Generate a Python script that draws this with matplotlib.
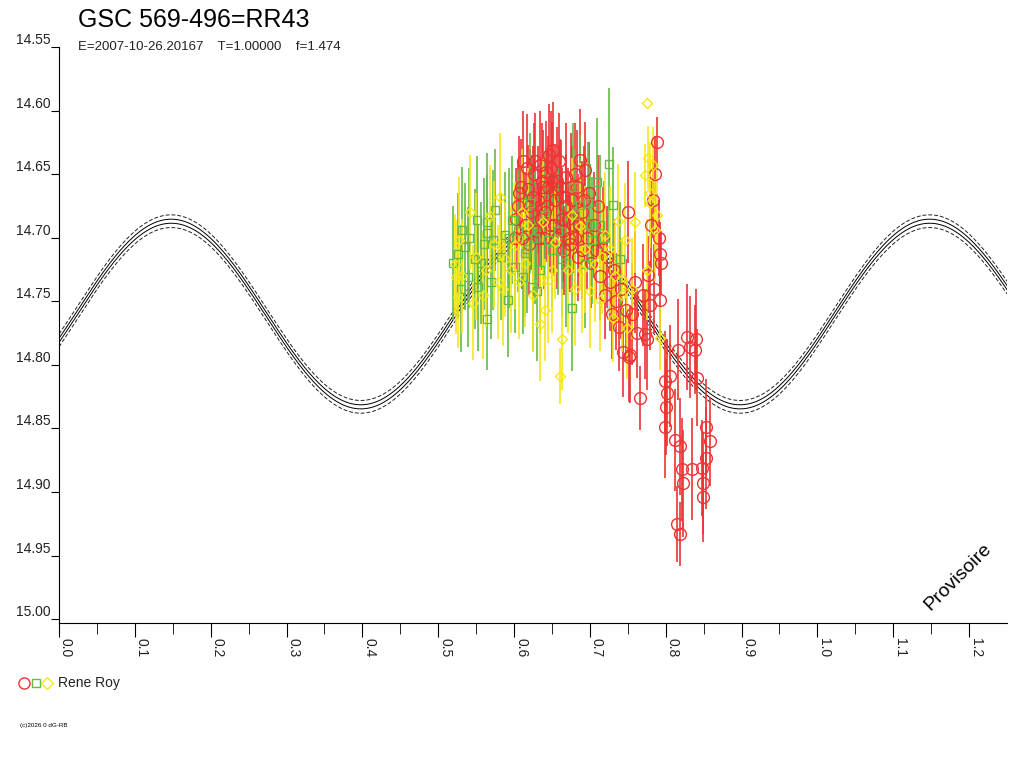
import numpy as np
import matplotlib
matplotlib.use('Agg')
import matplotlib.pyplot as plt

plt.rcParams['font.family'] = ['Liberation Sans', 'DejaVu Sans']

title = 'GSC 569-496=RR43'
subtitle = 'E=2007-10-26.20167    T=1.00000    f=1.474'
observer = 'Rene Roy'

# red circles (phase, mag, error)
red_phase = [0.601, 0.605, 0.609, 0.612, 0.615, 0.618, 0.620, 0.623, 0.626, 0.629,
             0.631, 0.634, 0.636, 0.638, 0.640, 0.642, 0.644, 0.646, 0.648, 0.650,
             0.652, 0.654, 0.657, 0.660, 0.663, 0.666, 0.669, 0.672, 0.675, 0.678,
             0.681, 0.684, 0.687, 0.690, 0.693, 0.696, 0.699, 0.702, 0.705, 0.708,
             0.711, 0.714, 0.717, 0.720, 0.723, 0.726, 0.729, 0.732, 0.735, 0.738,
             0.741, 0.744, 0.747, 0.750, 0.753, 0.756, 0.759, 0.762, 0.766, 0.770,
             0.777, 0.779, 0.773, 0.781, 0.783, 0.786, 0.789, 0.791, 0.793, 0.794,
             0.785, 0.793, 0.775, 0.752, 0.799, 0.802, 0.801, 0.799, 0.812, 0.819,
             0.822, 0.823, 0.815, 0.819, 0.834, 0.848, 0.849, 0.849, 0.853, 0.853,
             0.859, 0.840, 0.839, 0.828, 0.832, 0.841, 0.816, 0.806,
             0.603, 0.607, 0.611, 0.617, 0.621, 0.625, 0.628, 0.633, 0.637, 0.641,
             0.645, 0.649, 0.653, 0.656, 0.659, 0.662, 0.665, 0.668, 0.671, 0.674,
             0.677, 0.680, 0.683, 0.686, 0.689, 0.692]
red_mag = [14.700, 14.675, 14.660, 14.640, 14.690, 14.662, 14.705, 14.680, 14.650, 14.695,
           14.670, 14.643, 14.685, 14.660, 14.700, 14.648, 14.675, 14.635, 14.690, 14.655,
           14.631, 14.670, 14.700, 14.660, 14.685, 14.710, 14.675, 14.700, 14.660, 14.690,
           14.650, 14.715, 14.639, 14.680, 14.647, 14.700, 14.665, 14.720, 14.690, 14.710,
           14.675, 14.730, 14.700, 14.745, 14.715, 14.735, 14.760, 14.725, 14.750, 14.770,
           14.740, 14.790, 14.757, 14.680, 14.792, 14.760, 14.735, 14.775, 14.826, 14.745,
           14.729, 14.753, 14.776, 14.690, 14.670, 14.650, 14.625, 14.700, 14.713, 14.720,
           14.740, 14.749, 14.780, 14.794, 14.813, 14.822, 14.833, 14.849, 14.859, 14.864,
           14.882, 14.893, 14.925, 14.933, 14.882, 14.881, 14.893, 14.904, 14.873, 14.849,
           14.860, 14.780, 14.788, 14.778, 14.786, 14.810, 14.788, 14.809,
           14.685, 14.665, 14.700, 14.645, 14.675, 14.668, 14.640, 14.700, 14.655, 14.680,
           14.660, 14.645, 14.690, 14.655, 14.640, 14.668, 14.695, 14.652, 14.685, 14.705,
           14.670, 14.700, 14.660, 14.690, 14.710, 14.670]
red_err = [0.040, 0.035, 0.038, 0.040, 0.042, 0.035, 0.040, 0.045, 0.040, 0.038,
           0.042, 0.043, 0.040, 0.045, 0.040, 0.040, 0.044, 0.040, 0.038, 0.046,
           0.038, 0.043, 0.040, 0.038, 0.040, 0.035, 0.040, 0.040, 0.042, 0.038,
           0.040, 0.035, 0.040, 0.040, 0.038, 0.040, 0.040, 0.035, 0.042, 0.038,
           0.040, 0.035, 0.040, 0.035, 0.040, 0.038, 0.035, 0.040, 0.038, 0.035,
           0.040, 0.035, 0.040, 0.040, 0.038, 0.040, 0.040, 0.035, 0.025, 0.040,
           0.030, 0.035, 0.035, 0.035, 0.030, 0.030, 0.020, 0.030, 0.025, 0.025,
           0.035, 0.030, 0.040, 0.035, 0.040, 0.042, 0.038, 0.040, 0.040, 0.038,
           0.040, 0.042, 0.030, 0.025, 0.040, 0.038, 0.040, 0.035, 0.040, 0.038,
           0.035, 0.040, 0.035, 0.042, 0.040, 0.038, 0.040, 0.040,
           0.040, 0.045, 0.040, 0.042, 0.045, 0.040, 0.038, 0.040, 0.045, 0.042,
           0.040, 0.045, 0.040, 0.042, 0.038, 0.045, 0.040, 0.042, 0.040, 0.038,
           0.042, 0.040, 0.045, 0.040, 0.038, 0.042]

# green squares
green_phase = [0.551, 0.564, 0.565, 0.535, 0.526, 0.539, 0.552, 0.564, 0.572, 0.597,
               0.601, 0.612, 0.625, 0.630, 0.658, 0.663, 0.676, 0.621, 0.617, 0.725,
               0.709, 0.697, 0.687, 0.678, 0.731, 0.641, 0.645, 0.703, 0.713, 0.588,
               0.575, 0.740, 0.694, 0.680, 0.634, 0.592, 0.531, 0.548,
               0.520, 0.530, 0.541, 0.556, 0.561, 0.570, 0.583, 0.594, 0.605, 0.614,
               0.628, 0.650, 0.668, 0.700, 0.718]
green_mag = [14.686, 14.688, 14.696, 14.707, 14.713, 14.731, 14.739, 14.764, 14.702, 14.686,
             14.723, 14.731, 14.739, 14.742, 14.695, 14.717, 14.755, 14.673, 14.709, 14.642,
             14.656, 14.673, 14.674, 14.660, 14.674, 14.682, 14.702, 14.702, 14.690, 14.698,
             14.678, 14.717, 14.721, 14.682, 14.725, 14.749, 14.694, 14.717,
             14.720, 14.740, 14.700, 14.720, 14.705, 14.735, 14.715, 14.700, 14.695, 14.712,
             14.700, 14.710, 14.720, 14.690, 14.700]
green_err = [0.050, 0.055, 0.045, 0.050, 0.048, 0.055, 0.050, 0.040, 0.055, 0.050,
             0.052, 0.045, 0.050, 0.055, 0.050, 0.045, 0.050, 0.055, 0.050, 0.060,
             0.050, 0.048, 0.055, 0.050, 0.045, 0.050, 0.052, 0.050, 0.055, 0.050,
             0.048, 0.045, 0.050, 0.052, 0.050, 0.045, 0.050, 0.055,
             0.045, 0.050, 0.055, 0.048, 0.052, 0.045, 0.050, 0.055, 0.048, 0.050,
             0.052, 0.045, 0.050, 0.048, 0.045]

# yellow diamonds
yellow_phase = [0.542, 0.581, 0.568, 0.522, 0.524, 0.528, 0.526, 0.546, 0.559, 0.579,
                0.610, 0.618, 0.641, 0.634, 0.663, 0.661, 0.638, 0.654, 0.645, 0.676,
                0.671, 0.777, 0.783, 0.773, 0.779, 0.779, 0.687, 0.737, 0.760, 0.727,
                0.775, 0.700, 0.713, 0.731, 0.749, 0.793, 0.775, 0.786, 0.789, 0.588,
                0.601, 0.694, 0.707, 0.720, 0.746,
                0.532, 0.550, 0.563, 0.574, 0.585, 0.596, 0.606, 0.615, 0.625, 0.650,
                0.680, 0.690, 0.716, 0.733, 0.742, 0.755]
yellow_mag = [14.680, 14.668, 14.683, 14.721, 14.731, 14.702, 14.747, 14.751, 14.745, 14.735,
              14.680, 14.690, 14.757, 14.768, 14.780, 14.809, 14.688, 14.703, 14.733, 14.682,
              14.725, 14.637, 14.643, 14.651, 14.665, 14.673, 14.691, 14.687, 14.688, 14.709,
              14.725, 14.742, 14.749, 14.763, 14.771, 14.779, 14.594, 14.694, 14.682, 14.717,
              14.706, 14.709, 14.721, 14.698, 14.702,
              14.730, 14.715, 14.725, 14.705, 14.740, 14.725, 14.735, 14.720, 14.745, 14.725,
              14.740, 14.725, 14.715, 14.730, 14.745, 14.740]
yellow_err = [0.045, 0.050, 0.040, 0.040, 0.045, 0.050, 0.040, 0.045, 0.050, 0.045,
              0.050, 0.045, 0.040, 0.045, 0.040, 0.022, 0.050, 0.045, 0.050, 0.045,
              0.050, 0.025, 0.030, 0.025, 0.040, 0.035, 0.050, 0.045, 0.040, 0.050,
              0.040, 0.045, 0.040, 0.035, 0.040, 0.025, 0.000, 0.040, 0.040, 0.045,
              0.050, 0.050, 0.045, 0.050, 0.045,
              0.045, 0.050, 0.045, 0.050, 0.045, 0.050, 0.045, 0.050, 0.045, 0.050,
              0.045, 0.050, 0.045, 0.040, 0.045, 0.040]

# a few faint grey measurements
grey_phase = [0.713, 0.724, 0.730]
grey_mag = [14.745, 14.750, 14.735]
grey_err = [0.020, 0.015, 0.020]

# fitted curve: mean, semi-amplitude, phase of maximum light, period in phase
fit_mean = 14.760
fit_amp = 0.073
fit_max = 0.148
fit_period = 0.5
band_inner = 0.0016
band_outer = 0.0050

fig = plt.figure(figsize=(10.24, 7.68), dpi=100)
ax = fig.add_axes([59 / 1024, 1 - 623 / 768, 948 / 1024, 576 / 768])

ph = np.linspace(0, 1.25, 600)
curve = fit_mean - fit_amp * np.cos(2 * np.pi * (ph - fit_max) / fit_period)
ax.plot(ph, curve - band_inner, color='black', lw=0.7)
ax.plot(ph, curve + band_inner, color='black', lw=0.7)
ax.plot(ph, curve - band_outer, color='#222222', lw=0.7, ls=(0, (4, 2)))
ax.plot(ph, curve + band_outer, color='#222222', lw=0.7, ls=(0, (4, 2)))

red = '#ee3333'
green = '#66bb44'
yellow = '#f5e616'

ax.errorbar(grey_phase, grey_mag, yerr=grey_err, fmt='none', ecolor='#d8d8d8',
            elinewidth=1.2, capsize=0)
ax.errorbar(red_phase, red_mag, yerr=red_err, fmt='o', ms=8.5, mfc='none',
            mec=red, mew=1, ecolor=red, elinewidth=1.2, capsize=0)
ax.errorbar(green_phase, green_mag, yerr=green_err, fmt='s', ms=6, mfc='none',
            mec=green, mew=1, ecolor=green, elinewidth=1.2, capsize=0)
ax.errorbar(yellow_phase, yellow_mag, yerr=yellow_err, fmt='D', ms=5.5, mfc='none',
            mec=yellow, mew=1, ecolor=yellow, elinewidth=1.2, capsize=0)

ax.set_xlim(0, 1.25)
ax.set_ylim(15.003, 14.55)
ax.spines['top'].set_visible(False)
ax.spines['right'].set_visible(False)

yt = np.arange(14.55, 15.0001, 0.05)
ax.set_yticks(yt)
ax.set_yticklabels([f'{v:.2f}' for v in yt], fontsize=10, color='#222222')
for lab in ax.get_yticklabels():
    lab.set_va('bottom')
ax.tick_params(axis='y', direction='out', length=6, pad=0)

xt = np.arange(0, 1.2001, 0.1)
ax.set_xticks(xt)
ax.set_xticks(np.arange(0.05, 1.25, 0.1), minor=True)
ax.set_xticklabels([f'{v:.1f}' for v in xt], rotation=270, ha='left', fontsize=10,
                   color='#222222')
ax.tick_params(axis='x', which='major', direction='out', length=10, pad=1)
ax.tick_params(axis='x', which='minor', direction='out', length=8)

fig.text(78 / 1024, 1 - 20 / 768, title, fontsize=18, va='center', ha='left')
fig.text(78 / 1024, 1 - 47 / 768, subtitle, fontsize=9.5, va='center', ha='left',
         color='#222222')
fig.text(958 / 1024, 1 - 577 / 768, 'Provisoire', fontsize=14, rotation=45,
         ha='center', va='center')

# legend symbols
lx = [24, 36, 47]
for x, m, c, s in zip(lx, ['o', 's', 'D'], [red, green, yellow], [8, 6, 6]):
    fig.lines.append(plt.Line2D([x / 1024], [1 - 683 / 768], marker=m, ms=s,
                                mfc='none', mec=c, mew=1, transform=fig.transFigure))
fig.text(58 / 1024, 1 - 683 / 768, observer, fontsize=10, va='center', ha='left',
         color='#222222')
fig.text(20 / 1024, 1 - 725 / 768, '(c)2026 0 dG-RB', fontsize=4.5, va='center',
         ha='left')

fig.savefig('out.png', dpi=100)
